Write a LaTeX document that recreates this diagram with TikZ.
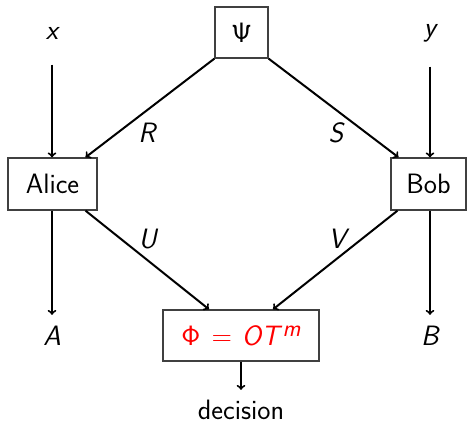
\documentclass[tikz,border=0pt]{standalone}
\usepackage{fix-cm}
\newcommand\gk[1]{{\fontencoding{OT1}\fontfamily{cmss}\fontseries{m}\fontshape{n}\selectfont\char#1}}
\newcommand\vi[1]{{\slshape #1}}
\begin{document}
\begin{tikzpicture}[x=1pt,y=-1pt,
  every node/.style={font=\fontsize{28}{34}\selectfont\sffamily},
  box/.style={draw=black!75,line width=1.3pt,inner sep=0pt},
  plain/.style={inner sep=0pt},
  arr/.style={->,line width=2pt},
  lab/.style={inner sep=0pt}]
\useasboundingbox (0,0) rectangle (467,424);
\node[box,minimum width=53,minimum height=51] (psi) at (241.5,32.5) {\gk{9}};
\node[box,minimum width=89,minimum height=52] (alice) at (52.5,184) {Alice};
\node[box,minimum width=75,minimum height=52] (bob) at (428.5,184) {Bob};
\node[box,minimum width=156,minimum height=51] (phi) at (241,335.5)
  {\color{red}\gk{8}\hspace{0.4em}=\hspace{0.35em}\vi{OT}\hspace{0.12em}\raisebox{0.3em}{\fontsize{24}{24}\selectfont\slshape m}};
\node[plain,minimum height=63] (x) at (52,33) {\vi{x}};
\node[plain,minimum height=67] (y) at (430,33) {\vi{y}};
\node[plain,minimum height=42] (A) at (52,336) {\vi{A}};
\node[plain,minimum height=42] (B) at (430,336) {\vi{B}};
\node[plain,minimum height=40] (dec) at (241,410) {decision};
\draw[arr] (x.south) -- (x.south |- alice.north);
\draw[arr] (y.south) -- (y.south |- bob.north);
\draw[arr] (A.north |- alice.south) -- (A.north);
\draw[arr] (B.north |- bob.south) -- (B.north);
\draw[arr] (psi.south west) -- ([xshift=33]alice.north)
  node[lab,pos=0.78,xshift=33,yshift=3] {\vi{R}};
\draw[arr] (psi.south east) -- ([xshift=-30]bob.north)
  node[lab,pos=0.78,xshift=-34,yshift=3] {\vi{S}};
\draw[arr] ([xshift=33]alice.south) -- ([xshift=-32]phi.north)
  node[lab,pos=0.3,xshift=25,yshift=1] {\vi{U}};
\draw[arr] ([xshift=-31]bob.south) -- ([xshift=32]phi.north)
  node[lab,pos=0.3,xshift=-23,yshift=1] {\vi{V}};
\draw[arr] (phi.south) -- (dec.north);
\end{tikzpicture}
\end{document}
